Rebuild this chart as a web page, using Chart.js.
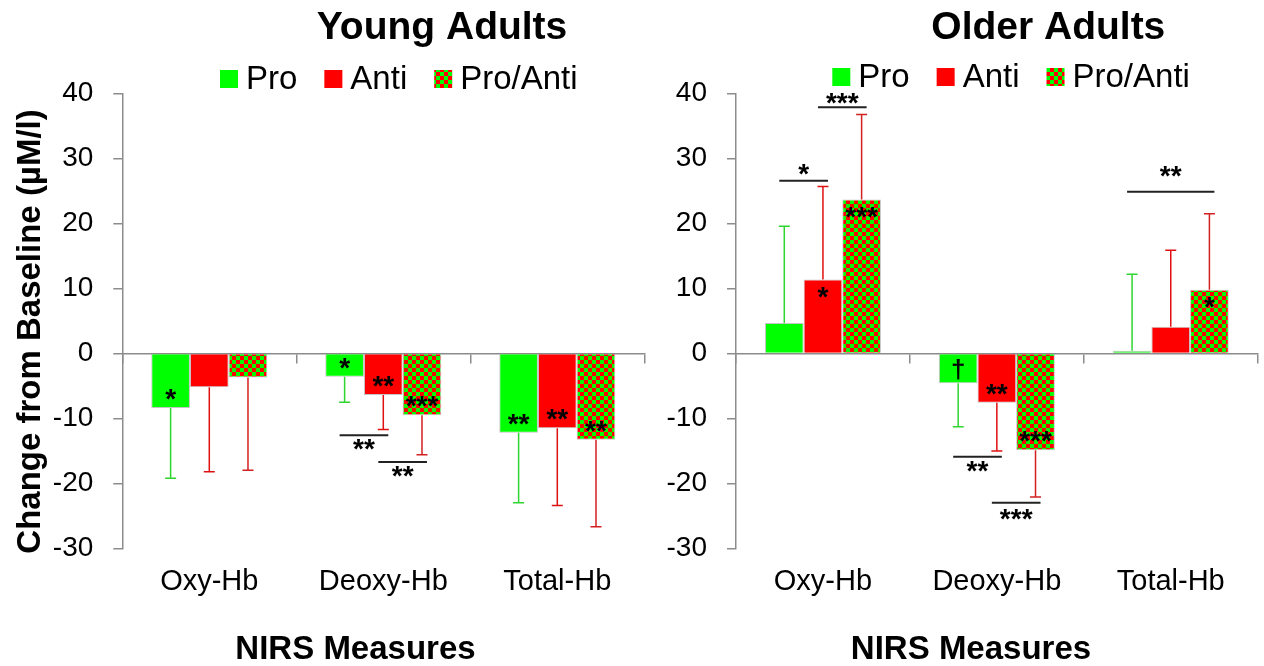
<!DOCTYPE html>
<html><head><meta charset="utf-8">
<script src="https://cdn.jsdelivr.net/npm/chart.js@4.4.1/dist/chart.umd.min.js"></script>
<style>
html,body{margin:0;padding:0;background:#fff;width:1264px;height:666px;overflow:hidden}
#wrapL{position:absolute;left:0;top:0;width:650px;height:666px}
#wrapR{position:absolute;left:650px;top:0;width:614px;height:666px}
canvas{display:block}
</style></head><body>
<div id="wrapL"><canvas id="cL" width="650" height="666"></canvas></div>
<div id="wrapR"><canvas id="cR" width="614" height="666"></canvas></div>
<script>
// ---------- data ----------
const categories = ['Oxy-Hb', 'Deoxy-Hb', 'Total-Hb'];
const seriesNames = ['Pro', 'Anti', 'Pro/Anti'];
const yMin = -30, yMax = 40, yStep = 10;

// Young adults: mean change and SD
const youngPro = [-8.4, -3.6, -12.2];
const youngAnti = [-5.2, -6.4, -11.5];
const youngProAnti = [-3.7, -9.5, -13.3];
const youngProSD = [10.8, 3.9, 10.8];
const youngAntiSD = [13.0, 5.3, 11.9];
const youngProAntiSD = [14.3, 6.1, 13.4];
const youngProSig = ['*', '*', '**'];
const youngAntiSig = ['', '**', '**'];
const youngProAntiSig = ['', '***', '**'];
// pairwise comparisons: category, series a, series b, bracket value, label, label value
const youngBrackets = [
  [1, 0, 1, -12.6, '**', -14.1],
  [1, 1, 2, -16.7, '**', -18.2]
];

// Older adults
const olderPro = [4.7, -4.6, 0.4];
const olderAnti = [11.4, -7.6, 4.1];
const olderProAnti = [23.7, -14.9, 9.8];
const olderProSD = [14.9, 6.7, 11.8];
const olderAntiSD = [14.3, 7.4, 11.8];
const olderProAntiSD = [13.1, 7.2, 11.7];
const olderProSig = ['', '\u2020', ''];
const olderAntiSig = ['*', '**', ''];
const olderProAntiSig = ['***', '***', '*'];
const olderBrackets = [
  [0, 0, 1, 26.6, '*', 28.2],
  [0, 1, 2, 37.9, '***', 39.2],
  [1, 0, 1, -15.9, '**', -17.5],
  [1, 1, 2, -23.0, '***', -24.9],
  [2, 0, 2, 24.9, '**', 27.9]
];

// ---------- styling ----------
const FONT = "'Liberation Sans', Arial, Helvetica, sans-serif";
Chart.defaults.font.family = FONT;
Chart.defaults.color = '#000';
const GREEN = '#00ff00', RED = '#ff0000';
const AXIS = '#8c8c8c';

function makeChecker() {
  const c = document.createElement('canvas');
  c.width = 8; c.height = 8;
  const g = c.getContext('2d');
  g.fillStyle = RED; g.fillRect(0, 0, 8, 8);
  g.fillStyle = GREEN; g.fillRect(0, 0, 4, 4); g.fillRect(4, 4, 4, 4);
  return g.createPattern(c, 'repeat');
}
const CHECK = makeChecker();
const fills = [GREEN, RED, CHECK];
const errColors = ['#2fd62f', '#e01010', '#d42020'];

const decorCfg = {};

function symbolBaseline(text, cy, size) {
  if (text.indexOf('\u2020') >= 0) return cy + 0.30 * size;
  return cy + 0.47 * size;
}

const decorPlugin = {
  id: 'decor',
  afterDatasetsDraw(chart) {
    const cfg = decorCfg[chart.canvas.id];
    if (!cfg) return;
    const ctx = chart.ctx;
    const yS = chart.scales.y;
    ctx.save();
    // error bars
    cfg.series.forEach((s, j) => {
      const meta = chart.getDatasetMeta(j);
      meta.data.forEach((bar, i) => {
        const v = s.values[i], sd = s.sd[i];
        const end = v + (v < 0 ? -sd : sd);
        const yEnd = yS.getPixelForValue(end);
        ctx.strokeStyle = errColors[j];
        ctx.lineWidth = 1.5;
        ctx.beginPath();
        ctx.moveTo(bar.x, bar.y);
        ctx.lineTo(bar.x, yEnd);
        ctx.moveTo(bar.x - 5.5, yEnd);
        ctx.lineTo(bar.x + 5.5, yEnd);
        ctx.stroke();
      });
    });
    // significance symbols inside bars
    ctx.fillStyle = '#000';
    ctx.textAlign = 'center';
    ctx.textBaseline = 'alphabetic';
    cfg.series.forEach((s, j) => {
      const meta = chart.getDatasetMeta(j);
      meta.data.forEach((bar, i) => {
        const t = s.sig[i];
        if (!t) return;
        const v = s.values[i];
        const cy = bar.y + (v < 0 ? -13 : 13);
        const size = t.indexOf('\u2020') >= 0 ? 26 : 28;
        ctx.font = 'bold ' + size + 'px ' + FONT;
        ctx.fillText(t, bar.x, symbolBaseline(t, cy, size));
      });
    });
    // comparison brackets
    cfg.brackets.forEach(b => {
      const [cat, a, c, yv, label, ly] = b;
      const xa = chart.getDatasetMeta(a).data[cat].x - 5;
      const xb = chart.getDatasetMeta(c).data[cat].x + 5;
      const py = yS.getPixelForValue(yv);
      ctx.strokeStyle = '#222';
      ctx.lineWidth = 2;
      ctx.beginPath();
      ctx.moveTo(xa, py);
      ctx.lineTo(xb, py);
      ctx.stroke();
      ctx.font = 'bold 28px ' + FONT;
      ctx.fillText(label, (xa + xb) / 2, symbolBaseline(label, yS.getPixelForValue(ly), 28));
    });
    ctx.restore();
  },
  afterDraw(chart) {
    const cfg = decorCfg[chart.canvas.id];
    if (!cfg) return;
    const ctx = chart.ctx;
    ctx.save();
    ctx.fillStyle = '#000';
    ctx.textBaseline = 'alphabetic';
    // chart title
    ctx.font = 'bold 39px ' + FONT;
    ctx.textAlign = 'center';
    ctx.fillText(cfg.title, cfg.titleX, cfg.titleY);
    // legend
    ctx.font = '33px ' + FONT;
    ctx.textAlign = 'left';
    let x = cfg.legendX;
    seriesNames.forEach((name, j) => {
      ctx.fillStyle = fills[j];
      ctx.fillRect(x, cfg.legendBoxY, 18, 18);
      ctx.fillStyle = '#000';
      ctx.fillText(name, x + 26, cfg.legendY);
      x += 26 + ctx.measureText(name).width + 27;
    });
    // x axis title
    ctx.font = 'bold 33px ' + FONT;
    ctx.textAlign = 'center';
    ctx.fillText('NIRS Measures', cfg.xTitleX, cfg.xTitleY);
    // y axis title
    if (cfg.yTitle) {
      ctx.save();
      ctx.translate(cfg.yTitleX, cfg.yTitleY);
      ctx.rotate(-Math.PI / 2);
      ctx.textBaseline = 'middle';
      ctx.fillText(cfg.yTitle, 0, 0);
      ctx.restore();
    }
    ctx.restore();
  }
};

function buildChart(canvasId, values, sds, sigs, brackets, yWidth, padRight, deco) {
  decorCfg[canvasId] = Object.assign({
    series: values.map((v, j) => ({ values: v, sd: sds[j], sig: sigs[j] })),
    brackets: brackets
  }, deco);
  return new Chart(document.getElementById(canvasId), {
    type: 'bar',
    data: {
      labels: categories,
      datasets: values.map((v, j) => ({
        label: seriesNames[j],
        data: v,
        backgroundColor: fills[j],
        borderColor: 'rgba(150,150,150,0.55)',
        borderWidth: 1,
        categoryPercentage: 0.667,
        barPercentage: 1.0,
        xAxisID: 'x',
        yAxisID: 'y'
      }))
    },
    options: {
      responsive: false,
      animation: false,
      events: [],
      layout: { padding: { left: 0, top: 93.7, right: padRight, bottom: 0 } },
      plugins: { legend: { display: false }, title: { display: false }, tooltip: { enabled: false } },
      scales: {
        x: {
          type: 'category',
          position: { y: 0 },
          offset: true,
          grid: { offset: true, drawOnChartArea: false, drawTicks: true, tickLength: 9, color: AXIS, lineWidth: 1.5 },
          border: { color: AXIS, width: 1.5 },
          ticks: { display: false }
        },
        x2: {
          type: 'category',
          axis: 'x',
          position: 'bottom',
          offset: true,
          grid: { display: false, drawTicks: false },
          border: { display: false },
          ticks: { font: { size: 29 }, color: '#000', padding: 16.5, maxRotation: 0, autoSkip: false },
          afterFit(s) { s.height = 117.7; }
        },
        y: {
          min: yMin,
          max: yMax,
          ticks: { stepSize: yStep, font: { size: 28 }, color: '#000', padding: 20 },
          grid: { drawOnChartArea: false, drawTicks: true, tickLength: 9, color: AXIS, lineWidth: 1.5 },
          border: { color: AXIS, width: 1.5 },
          afterFit(s) { s.width = yWidth; }
        }
      }
    },
    plugins: [decorPlugin]
  });
}

buildChart('cL',
  [youngPro, youngAnti, youngProAnti],
  [youngProSD, youngAntiSD, youngProAntiSD],
  [youngProSig, youngAntiSig, youngProAntiSig],
  youngBrackets, 122.3, 5.7,
  { title: 'Young Adults', titleX: 442, titleY: 39,
    legendX: 220, legendBoxY: 70, legendY: 88.5,
    xTitleX: 355.5, xTitleY: 658.5,
    yTitle: 'Change from Baseline (\u00b5M/l)', yTitleX: 31, yTitleY: 331.5 });

buildChart('cR',
  [olderPro, olderAnti, olderProAnti],
  [olderProSD, olderAntiSD, olderProAntiSD],
  [olderProSig, olderAntiSig, olderProAntiSig],
  olderBrackets, 86, 6.3,
  { title: 'Older Adults', titleX: 398.3, titleY: 38.5,
    legendX: 182.3, legendBoxY: 68, legendY: 86.5,
    xTitleX: 321, xTitleY: 658.5 });
</script>
</body></html>
